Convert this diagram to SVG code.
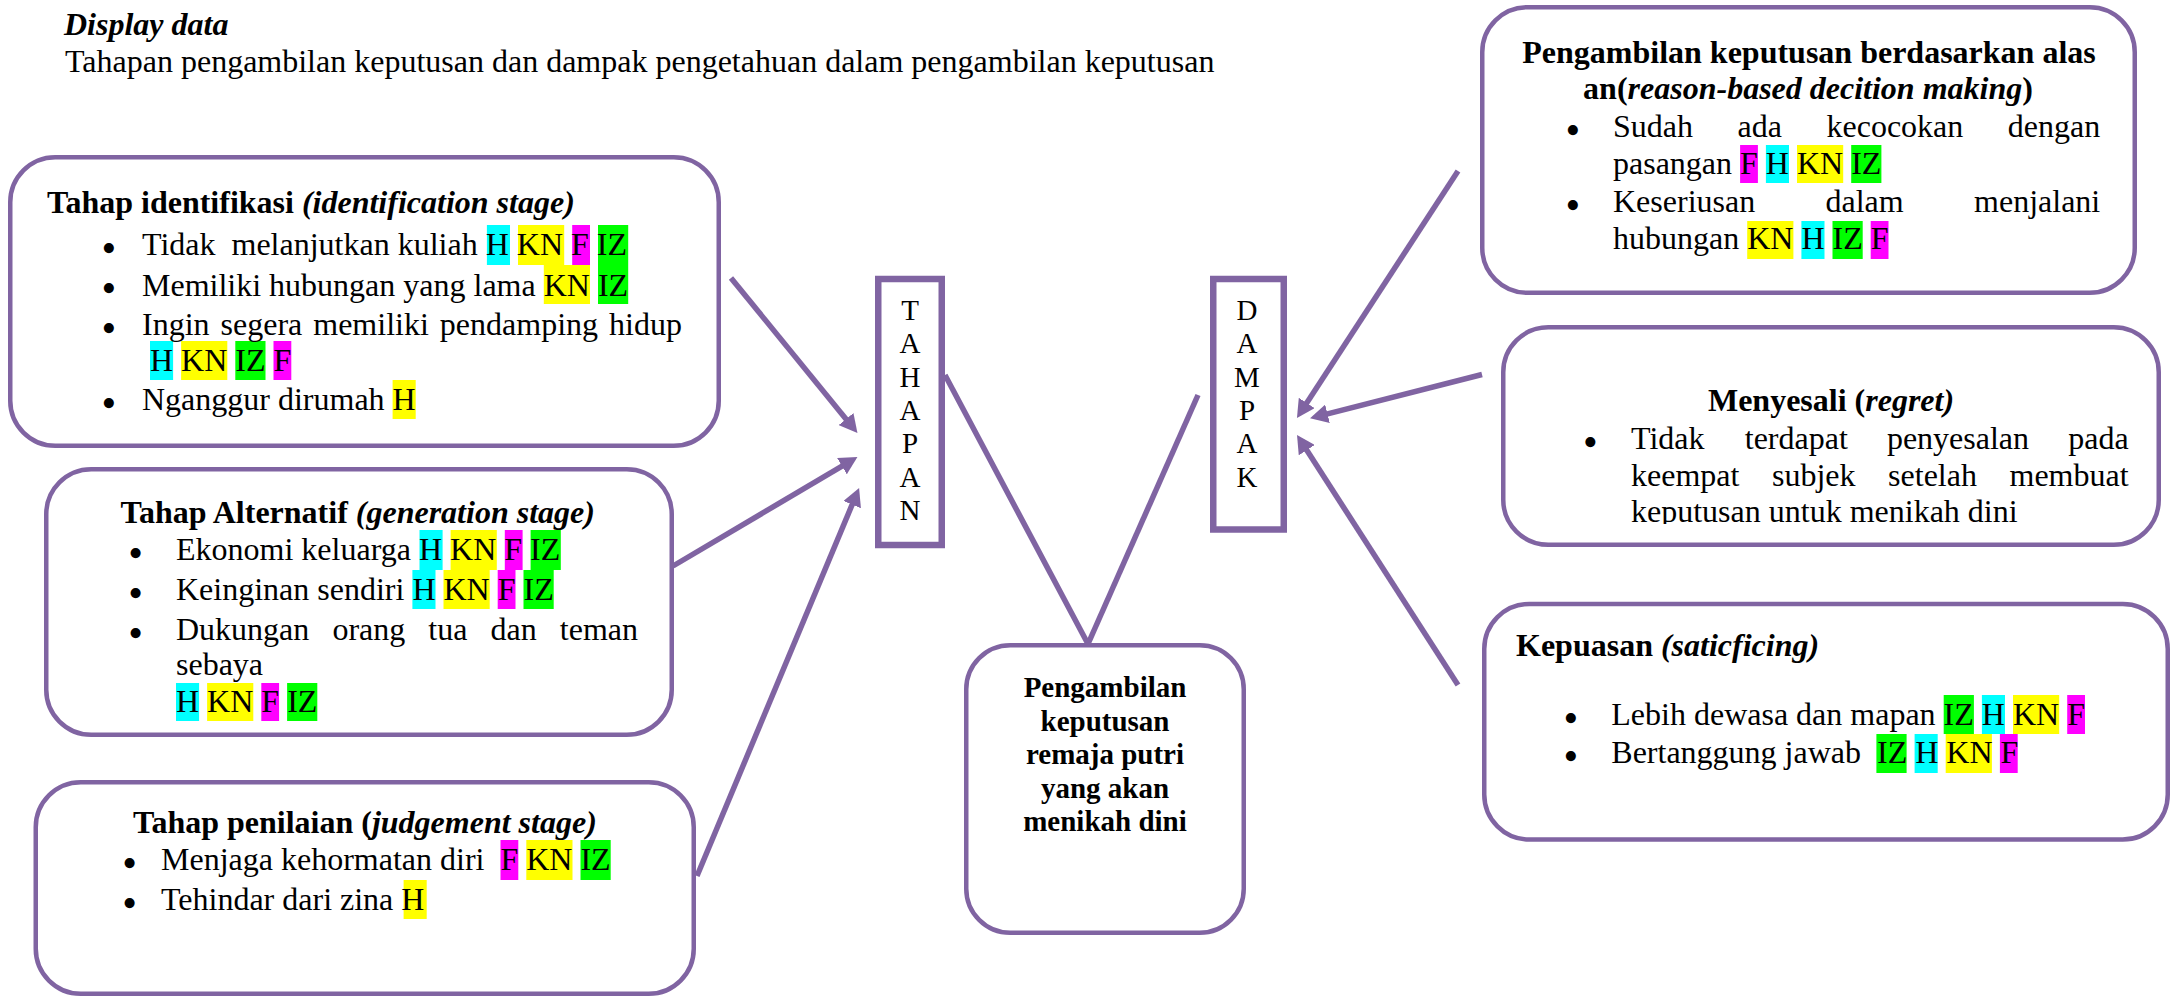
<svg xmlns="http://www.w3.org/2000/svg" width="2171" height="998" viewBox="0 0 2171 998">
<style>
.t{font-family:"Liberation Serif","Times New Roman",serif;font-size:32px;fill:#000;white-space:pre}
.c{font-family:"Liberation Serif","Times New Roman",serif;font-size:29px;fill:#000;text-anchor:middle}
.b{font-weight:bold}
.i{font-style:italic}
.bul{font-family:"Liberation Serif","Times New Roman",serif;font-size:42px}
.box{fill:#fff;stroke:#8064A2;stroke-width:4.5}
.vbox{fill:#fff;stroke:#8064A2;stroke-width:6.5}
.con{stroke:#8064A2;stroke-width:5.5;fill:none}
.arr{marker-end:url(#ah)}
.h{fill:#00FFFF}.kn{fill:#FFFF00}.f{fill:#FF00FF}.iz{fill:#00FF00}
</style>
<defs>
<marker id="ah" viewBox="0 0 18 19" markerWidth="18" markerHeight="19" markerUnits="userSpaceOnUse" refX="4" refY="9.5" orient="auto">
<path d="M0,0 L18,9.5 L0,19 z" fill="#8064A2"/>
</marker>
<clipPath id="clipR2"><rect x="1500" y="300" width="660" height="224"/></clipPath>
</defs>
<rect width="2171" height="998" fill="#fff"/>

<g id="header">
<text class="t b i" x="64" y="35">Display data</text>
<text class="t" x="65" y="72">Tahapan pengambilan keputusan dan dampak pengetahuan dalam pengambilan keputusan</text>
</g>

<g id="connectors">
<line class="con arr" x1="731" y1="278" x2="848.6" y2="422.2"/>
<line class="con arr" x1="673" y1="566" x2="845.4" y2="464.1"/>
<line class="con arr" x1="697" y1="876" x2="853.7" y2="500.9"/>
<line class="con" x1="945" y1="375" x2="1088" y2="644"/>
<line class="con" x1="1198" y1="395" x2="1088" y2="644"/>
<line class="con arr" x1="1458" y1="171" x2="1304.6" y2="406.3"/>
<line class="con arr" x1="1482" y1="374.5" x2="1323.6" y2="414.8"/>
<line class="con arr" x1="1458" y1="685" x2="1304.6" y2="446.8"/>
</g>

<g id="identifikasi">
<rect class="box" x="10.25" y="157.25" width="708.5" height="288.5" rx="45"/>
<rect class="h" x="486.9" y="225" width="23.1" height="40"/>
<rect class="kn" x="518" y="225" width="46.2" height="40"/>
<rect class="f" x="572.2" y="225" width="17.8" height="40"/>
<rect class="iz" x="598" y="225" width="30.2" height="40"/>
<rect class="kn" x="543.8" y="265" width="46.2" height="39"/>
<rect class="iz" x="598" y="265" width="30.2" height="39"/>
<rect class="h" x="150" y="341" width="23.1" height="39"/>
<rect class="kn" x="181.1" y="341" width="46.2" height="39"/>
<rect class="iz" x="235.3" y="341" width="30.2" height="39"/>
<rect class="f" x="273.5" y="341" width="17.8" height="39"/>
<rect class="kn" x="392.6" y="380" width="23.1" height="39"/>
<text class="t"><tspan class="b" x="47" y="213">Tahap identifikasi </tspan><tspan class="b i">(identification stage)</tspan><tspan class="bul" x="101.6" y="261.5">•</tspan><tspan x="142" y="255">Tidak  melanjutkan kuliah H KN F IZ</tspan><tspan class="bul" x="101.6" y="302">•</tspan><tspan x="142" y="295.5">Memiliki hubungan yang lama KN IZ</tspan><tspan class="bul" x="101.6" y="341.5">•</tspan><tspan x="142" y="335">Ingin</tspan><tspan x="220.55">segera</tspan><tspan x="313.28">memiliki</tspan><tspan x="439.86">pendamping</tspan><tspan x="609.07">hidup</tspan><tspan x="150" y="371">H KN IZ F</tspan><tspan class="bul" x="101.6" y="416.5">•</tspan><tspan x="142" y="410">Nganggur dirumah H</tspan></text>
</g>

<g id="alternatif">
<rect class="box" x="46.25" y="469.25" width="625.5" height="265.5" rx="45"/>
<rect class="h" x="419.5" y="530" width="23.1" height="40"/>
<rect class="kn" x="450.6" y="530" width="46.2" height="40"/>
<rect class="f" x="504.8" y="530" width="17.8" height="40"/>
<rect class="iz" x="530.6" y="530" width="30.2" height="40"/>
<rect class="h" x="412.4" y="570" width="23.1" height="39"/>
<rect class="kn" x="443.5" y="570" width="46.2" height="39"/>
<rect class="f" x="497.7" y="570" width="17.8" height="39"/>
<rect class="iz" x="523.5" y="570" width="30.2" height="39"/>
<rect class="h" x="176" y="683" width="23.1" height="38"/>
<rect class="kn" x="207.1" y="683" width="46.2" height="38"/>
<rect class="f" x="261.3" y="683" width="17.8" height="38"/>
<rect class="iz" x="287.1" y="683" width="30.2" height="38"/>
<text class="t"><tspan class="b" x="120.5" y="523">Tahap Alternatif </tspan><tspan class="b i">(generation stage)</tspan><tspan class="bul" x="128.2" y="567">•</tspan><tspan x="176" y="560">Ekonomi keluarga H KN F IZ</tspan><tspan class="bul" x="128.2" y="607">•</tspan><tspan x="176" y="600">Keinginan sendiri H KN F IZ</tspan><tspan class="bul" x="128.2" y="647">•</tspan><tspan x="176" y="640">Dukungan</tspan><tspan x="332.39">orang</tspan><tspan x="428.33">tua</tspan><tspan x="490.51">dan</tspan><tspan x="559.8">teman</tspan><tspan x="176" y="675">sebaya</tspan><tspan x="176" y="712">H KN F IZ</tspan></text>
</g>

<g id="penilaian">
<rect class="box" x="35.75" y="782.25" width="658" height="211.5" rx="45"/>
<rect class="f" x="500.5" y="840" width="17.8" height="40"/>
<rect class="kn" x="526.3" y="840" width="46.2" height="40"/>
<rect class="iz" x="580.5" y="840" width="30.2" height="40"/>
<rect class="kn" x="403.6" y="880" width="23.1" height="39"/>
<text class="t"><tspan class="b" x="133" y="833">Tahap penilaian (</tspan><tspan class="b i">judgement stage)</tspan><tspan class="bul" x="122.3" y="877">•</tspan><tspan x="161" y="870">Menjaga kehormatan diri  F KN IZ</tspan><tspan class="bul" x="122.3" y="917">•</tspan><tspan x="161" y="910">Tehindar dari zina H</tspan></text>
</g>

<g id="tahapan">
<rect class="vbox" x="878.25" y="279" width="63.5" height="266"/>
<text class="c"><tspan x="910" y="319.5">T</tspan><tspan x="910" y="353">A</tspan><tspan x="910" y="386.5">H</tspan><tspan x="910" y="420">A</tspan><tspan x="910" y="453.3">P</tspan><tspan x="910" y="486.7">A</tspan><tspan x="910" y="520">N</tspan></text>
</g>

<g id="dampak">
<rect class="vbox" x="1213.25" y="279" width="70.5" height="250.5"/>
<text class="c"><tspan x="1247" y="319.5">D</tspan><tspan x="1247" y="353">A</tspan><tspan x="1247" y="386.5">M</tspan><tspan x="1247" y="420">P</tspan><tspan x="1247" y="453.3">A</tspan><tspan x="1247" y="486.7">K</tspan></text>
</g>

<g id="pengambilan">
<rect class="box" x="966.25" y="645.25" width="277.5" height="287.5" rx="44"/>
<text class="c b"><tspan x="1105" y="697">Pengambilan</tspan><tspan x="1105" y="730.5">keputusan</tspan><tspan x="1105" y="764">remaja putri</tspan><tspan x="1105" y="797.5">yang akan</tspan><tspan x="1105" y="831">menikah dini</tspan></text>
</g>

<g id="reason-based">
<rect class="box" x="1482.25" y="7.25" width="652.5" height="285.5" rx="45"/>
<rect class="f" x="1740.1" y="145" width="17.8" height="38"/>
<rect class="h" x="1765.9" y="145" width="23.1" height="38"/>
<rect class="kn" x="1797" y="145" width="46.2" height="38"/>
<rect class="iz" x="1851.2" y="145" width="30.2" height="38"/>
<rect class="kn" x="1747.2" y="221" width="46.2" height="38"/>
<rect class="h" x="1801.4" y="221" width="23.1" height="38"/>
<rect class="iz" x="1832.5" y="221" width="30.2" height="38"/>
<rect class="f" x="1870.7" y="221" width="17.8" height="38"/>
<text class="t b" text-anchor="middle"><tspan x="1809" y="62.7">Pengambilan keputusan berdasarkan alas</tspan><tspan x="1808" y="99">an(</tspan><tspan class="i">reason-based decition making</tspan><tspan>)</tspan></text>
<text class="t"><tspan class="bul" x="1565.4" y="143.8">•</tspan><tspan x="1613" y="137.3">Sudah</tspan><tspan x="1737.54">ada</tspan><tspan x="1826.5">kecocokan</tspan><tspan x="2007.87">dengan</tspan><tspan x="1613" y="174">pasangan F H KN IZ</tspan><tspan class="bul" x="1565.4" y="218.8">•</tspan><tspan x="1613" y="212.3">Keseriusan</tspan><tspan x="1825.53">dalam</tspan><tspan x="1974.09">menjalani</tspan><tspan x="1613" y="249.3">hubungan KN H IZ F</tspan></text>
</g>

<g id="menyesali">
<rect class="box" x="1503.25" y="327.25" width="655.5" height="217.5" rx="45"/>
<text class="t b" x="1831" y="410.7" text-anchor="middle">Menyesali (<tspan class="i">regret)</tspan></text>
<text class="t" clip-path="url(#clipR2)"><tspan class="bul" x="1583.1" y="455.5">•</tspan><tspan x="1631" y="449">Tidak</tspan><tspan x="1744.75">terdapat</tspan><tspan x="1886.91">penyesalan</tspan><tspan x="2068.18">pada</tspan><tspan x="1631" y="485.7">keempat</tspan><tspan x="1771.98">subjek</tspan><tspan x="1888.09">setelah</tspan><tspan x="2009.51">membuat</tspan><tspan x="1631" y="521.7">keputusan untuk menikah dini</tspan></text>
</g>

<g id="kepuasan">
<rect class="box" x="1484.25" y="604" width="683.5" height="235.5" rx="45"/>
<rect class="iz" x="1943.7" y="695" width="30.2" height="39"/>
<rect class="h" x="1981.9" y="695" width="23.1" height="39"/>
<rect class="kn" x="2013" y="695" width="46.2" height="39"/>
<rect class="f" x="2067.2" y="695" width="17.8" height="39"/>
<rect class="iz" x="1876.4" y="734" width="30.2" height="39"/>
<rect class="h" x="1914.6" y="734" width="23.1" height="39"/>
<rect class="kn" x="1945.7" y="734" width="46.2" height="39"/>
<rect class="f" x="1999.9" y="734" width="17.8" height="39"/>
<text class="t"><tspan class="b" x="1516" y="656">Kepuasan </tspan><tspan class="b i">(saticficing)</tspan><tspan class="bul" x="1563.6" y="731.5">•</tspan><tspan x="1611.3" y="725">Lebih dewasa dan mapan IZ H KN F</tspan><tspan class="bul" x="1563.6" y="769.5">•</tspan><tspan x="1611.3" y="763">Bertanggung jawab  IZ H KN F</tspan></text>
</g>
</svg>
